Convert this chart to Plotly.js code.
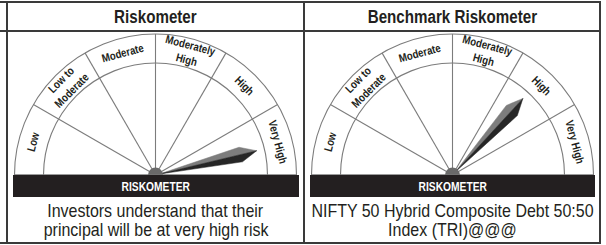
<!DOCTYPE html>
<html><head><meta charset="utf-8">
<script src="https://cdn.plot.ly/plotly-3.0.1.min.js"></script>
<style>
html,body{margin:0;padding:0;background:#fff}
#chart{width:606px;height:245px}
#chart text.annotation-text{transform-box:fill-box;transform-origin:center}
</style>
</head><body><div id="chart"></div>
<script>
// ---- data ----
const panelTitles = ['Riskometer', 'Benchmark Riskometer'];
const riskLevels = ['Low', 'Low to<br>Moderate', 'Moderate', 'Moderately<br>High', 'High', 'Very High'];
const needleLevel = [5.55, 4.42];           // needle position on the 0..6 risk scale
const dialLabel = ['RISKOMETER', 'RISKOMETER'];
const captionLine1 = ['Investors understand that their', 'NIFTY 50 Hybrid Composite Debt 50:50'];
const captionLine2 = ['principal will be at very high risk', 'Index (TRI)@@@'];

// ---- layout helpers ----
const W = 606, H = 245;
const px = x => x / W, py = y => 1 - y / H;
const FONT = '"Liberation Sans", Arial, sans-serif';
const LINE = '#7c7c7c', DARK = '#231f20', FRAME = '#3a3a3a';
const gauges = [{cx: 155.5, cy: 175, bar: [13, 299]}, {cx: 452.5, cy: 175, bar: [310, 595]}];
const R = 141, RIN = 112, RLAB = 126.5;
const step = 180 / riskLevels.length;
const levelToDeg = v => 180 - v * step;

const data = [], annotations = [], annScale = [], shapes = [];
const layout = {width: W, height: H, margin: {l: 0, r: 0, t: 0, b: 0},
  paper_bgcolor: '#fff', plot_bgcolor: '#fff', showlegend: false};
function addText(ann, sx) { annotations.push(Object.assign({xref: 'paper', yref: 'paper', showarrow: false,
  xanchor: 'center', yanchor: 'middle'}, ann)); annScale.push(sx); }

gauges.forEach((g, k) => {
  const pid = k === 0 ? 'polar' : 'polar2';
  layout[pid] = {
    domain: {x: [px(g.cx - R), px(g.cx + R)], y: [py(g.cy), py(g.cy - R)]},
    sector: [0, 180], bgcolor: 'rgba(0,0,0,0)',
    radialaxis: {range: [0, R], tickvals: [RIN], showticklabels: false, ticks: '', showline: false,
      gridcolor: LINE, gridwidth: 1.1},
    angularaxis: {thetaunit: 'degrees', direction: 'counterclockwise', rotation: 0,
      tickvals: riskLevels.map((_, i) => i * step).concat([180]), showticklabels: false, ticks: '',
      showline: true, linecolor: LINE, linewidth: 1.1, gridcolor: LINE, gridwidth: 1.1}
  };
  const a = levelToDeg(needleLevel[k]);
  const d = Math.atan(7.5 / 88) * 180 / Math.PI;
  data.push({type: 'scatterpolar', subplot: pid, mode: 'lines', fill: 'toself',
    r: [4, 88, 104, 4], theta: [a, a + d, a, a], fillcolor: '#7d7d7d', line: {width: 0.5, color: '#7d7d7d'}, hoverinfo: 'skip'});
  data.push({type: 'scatterpolar', subplot: pid, mode: 'lines', fill: 'toself',
    r: [4, 88, 104, 4], theta: [a, a - d, a, a], fillcolor: '#262626', line: {width: 0.5, color: '#262626'}, hoverinfo: 'skip'});
  data.push({type: 'scatterpolar', subplot: pid, mode: 'markers', r: [0], theta: [0], cliponaxis: true,
    marker: {size: 15, color: '#6a6a6a'}, hoverinfo: 'skip'});

  riskLevels.forEach((lab, i) => {
    const th = 180 - (i + 0.5) * step, t = th * Math.PI / 180;
    addText({x: px(g.cx + RLAB * Math.cos(t)), y: py(g.cy - RLAB * Math.sin(t)), text: lab, textangle: 90 - th,
      font: {family: FONT, size: 11.5, color: '#231f20', weight: 700}}, 0.84);
  });
  shapes.push({type: 'rect', xref: 'paper', yref: 'paper', layer: 'above', x0: px(g.bar[0]), x1: px(g.bar[1]),
    y0: py(197), y1: py(175), fillcolor: DARK, line: {width: 0}});
  addText({x: px(g.cx), y: py(186.5), text: dialLabel[k], font: {family: FONT, size: 12.5, color: '#fff', weight: 700}}, 0.82);
  addText({x: px(g.cx), y: py(16.5), text: panelTitles[k], font: {family: FONT, size: 18.5, color: '#231f20', weight: 700}}, 0.82);
  addText({x: px(g.cx), y: py(210.6), text: captionLine1[k], font: {family: FONT, size: 17.5, color: '#231f20'}}, 0.914);
  addText({x: px(g.cx), y: py(230.3), text: captionLine2[k], font: {family: FONT, size: 17.5, color: '#231f20'}}, 0.914);
});

// table frame
[2, 31, 243].forEach(y => shapes.push({type: 'line', xref: 'paper', yref: 'paper', layer: 'above',
  x0: 0, x1: px(601), y0: py(y), y1: py(y), line: {color: FRAME, width: 2}}));
[7, 304, 600].forEach(x => shapes.push({type: 'line', xref: 'paper', yref: 'paper', layer: 'above',
  x0: px(x), x1: px(x), y0: py(2), y1: py(243), line: {color: FRAME, width: 2}}));

layout.annotations = annotations;
layout.shapes = shapes;
Plotly.newPlot('chart', data, layout, {displayModeBar: false, staticPlot: true}).then(gd => {
  // condense each text horizontally, like the narrow typeface of the reference
  gd.querySelectorAll('g.annotation').forEach(el => {
    const i = +el.getAttribute('data-index');
    const t = el.querySelector('text.annotation-text');
    if (t && annScale[i]) t.style.transform = 'scaleX(' + annScale[i] + ')';
  });
});
</script></body></html>
